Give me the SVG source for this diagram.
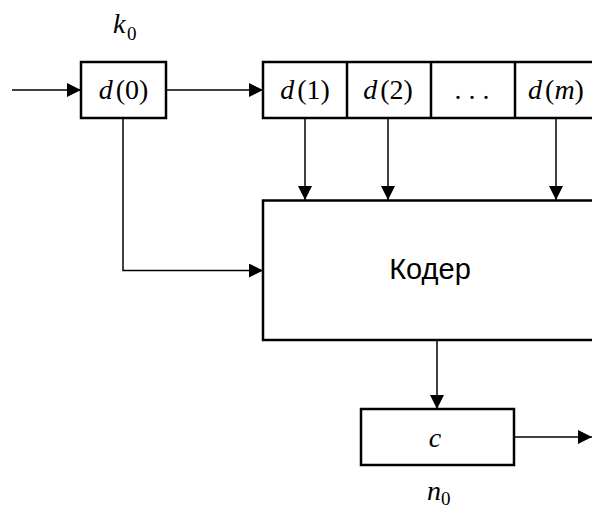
<svg xmlns="http://www.w3.org/2000/svg" width="592" height="511" viewBox="0 0 592 511">
<style>
.box{fill:#fff;stroke:#000;stroke-width:2.5}
.ln{fill:none;stroke:#000;stroke-width:1.5}
.m{font-family:"Liberation Serif","DejaVu Serif",serif;font-size:28px;fill:#000}
.i{font-style:italic}
.s{font-family:"Liberation Serif","DejaVu Serif",serif;font-size:19px;fill:#000}
.t{font-family:"Liberation Sans",Arial,sans-serif;font-size:29px;fill:#000}
</style>
<defs>
<marker id="ah" markerUnits="userSpaceOnUse" markerWidth="14" markerHeight="14" viewBox="0 0 14 14" refX="14" refY="7" orient="auto">
<path d="M0,0 L14,7 L0,14 Z" fill="#000"/>
</marker>
</defs>
<rect width="592" height="511" fill="#fff"/>
<g id="connectors">
<path class="ln" d="M12,90 H81" marker-end="url(#ah)"/>
<path class="ln" d="M166,90 H263" marker-end="url(#ah)"/>
<path class="ln" d="M123,118 V270.5 H263" marker-end="url(#ah)"/>
<path class="ln" d="M305,118 V200" marker-end="url(#ah)"/>
<path class="ln" d="M388,118 V200" marker-end="url(#ah)"/>
<path class="ln" d="M556,118 V200" marker-end="url(#ah)"/>
<path class="ln" d="M437,340 V409" marker-end="url(#ah)"/>
<path class="ln" d="M514,437 H592" marker-end="url(#ah)"/>
</g>
<g id="k0"><text class="m i" x="113" y="33">k</text><text class="s" x="127" y="40">0</text></g>
<g id="d0">
<rect class="box" x="81" y="62" width="85" height="56"/>
<text class="m" x="123.5" y="99" text-anchor="middle"><tspan class="i">d</tspan><tspan dx="3">(0)</tspan></text>
</g>
<g id="register">
<rect class="box" x="263" y="62" width="340" height="56"/>
<path class="box" d="M347,62 V118 M431,62 V118 M515,62 V118"/>
</g>
<g id="d1"><text class="m" x="305" y="99" text-anchor="middle"><tspan class="i">d</tspan><tspan dx="3">(1)</tspan></text></g>
<g id="d2"><text class="m" x="388" y="99" text-anchor="middle"><tspan class="i">d</tspan><tspan dx="3">(2)</tspan></text></g>
<g id="dots"><text class="m" x="472" y="99" text-anchor="middle">. . .</text></g>
<g id="dm"><text class="m" x="556" y="99" text-anchor="middle"><tspan class="i">d</tspan><tspan dx="3">(</tspan><tspan class="i">m</tspan>)</text></g>
<g id="coder">
<rect class="box" x="263" y="200.5" width="340" height="139.5"/>
<text class="t" x="430" y="279" text-anchor="middle">Кодер</text>
</g>
<g id="c">
<rect class="box" x="361" y="409" width="153" height="56"/>
<text class="m i" x="435" y="447" text-anchor="middle">c</text>
</g>
<g id="n0"><text class="m i" x="427" y="500">n</text><text class="s" x="441" y="505">0</text></g>
</svg>
